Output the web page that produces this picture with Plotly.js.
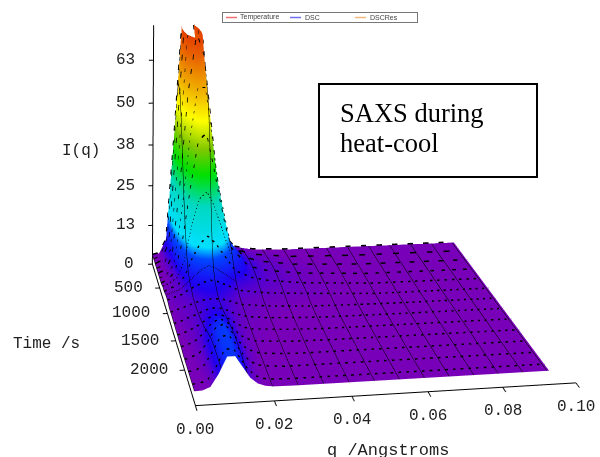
<!DOCTYPE html>
<html><head><meta charset="utf-8">
<script src="https://cdn.plot.ly/plotly-3.0.1.min.js"></script>
<style>html,body{margin:0;padding:0;background:#fff;overflow:hidden;width:600px;height:457px}#c{position:absolute;left:-71px;top:-285px;width:672px;height:1276px}</style></head>
<body><div id="c"></div>
<script>
const qValues=[0,0.002,0.004,0.006,0.008,0.010,0.012,0.014,0.016,0.018,0.020,0.025,0.030,0.040,0.060,0.093];
const timeValues=[0,100,200,300,400,500,600,700,800,900,1000,1100,1200,1300,1400,1500,1600,1700,1800,1900,2000,2100,2200,2300,2400,2500];
const intensity=[
[3,3.5,8,40,76,82,66,38,18,9,6,4.5,3.5,3,3,3],
[3,4,10,46,84,90,72,44,23,12,7.5,5.2,4.2,3.2,3,3],
[3,4,10,44,82,92,76,50,29,16,9,6,4.6,3.5,3,3],
[3,4,9,38,72,86,74,53,33,20,11,6.5,5,3.8,3,3],
[3,4,8,30,58,74,68,52,35,23,13,7,5.4,4,3.1,3],
[3,4,7,22,44,60,60,47,33,23,14,7.2,5.6,4.2,3.1,3],
[3,4,6.5,16,32,46,48,39,29,20,13,7.2,5.6,4.2,3.1,3],
[3.5,4.5,6,11,22,30,32,28,22,16,11,7,5.6,4.2,3.1,3],
[3.5,4.5,5.5,8.5,14,18,20,18,15,12,9,6.6,5.4,4.2,3.1,3],
[4,4.8,5.5,7.5,9.5,11.5,12.5,11.5,10,8.5,7,6,5,4.2,3,3],
[4,4.8,5.5,7,8,9,9.5,9,8,7,6,5.2,4.6,4,3,3],
[3.5,4.5,5.2,6,7,7.8,8,7.8,7,6,5.2,4.5,4,3.6,3,3],
[3.5,4.3,5,5.8,6.5,7,7,6.8,6.2,5.4,4.8,4.2,3.8,3.3,3,3],
[3.5,4.2,5,5.8,6.5,7.2,7.2,6.8,6,5.2,4.6,4,3.6,3.2,3,3],
[3.4,4.1,5,5.8,6.8,7.5,7.5,6.8,5.8,5,4.4,3.8,3.5,3.1,3,3],
[3.3,4,5,6,7,8,8,7,5.8,4.8,4.2,3.7,3.4,3,3,3],
[3.3,4,5,6.2,7.8,8.8,8.5,7.2,5.7,4.6,4,3.6,3.3,3,3,3],
[3.2,4,5,6.5,8.6,9.8,9.2,7.3,5.6,4.5,3.9,3.5,3.2,3,3,3],
[3.2,3.9,5,7,9.8,11,9.8,7.4,5.5,4.4,3.8,3.4,3.1,3,3,3],
[3,3.8,5,7.6,11,12.2,10.2,7.5,5.4,4.3,3.7,3.3,3,3,3,3],
[3,3.7,4.9,8,12,12.8,10.4,7.4,5.3,4.2,3.6,3.2,3,3,3,3],
[3,3.5,4.8,8.2,12.4,13,10.4,7.2,5.1,4,3.5,3.1,3,3,3,3],
[3,3.4,4.6,8.2,12.6,13,10.2,7,4.9,3.8,3.4,3,3,3,3,3],
[3,3.3,4.4,8,12.6,12.8,10,6.8,4.7,3.6,3.3,3,3,3,3,3],
[3,3.2,4.2,7.8,12.5,12.6,9.6,6.4,4.4,3.5,3.2,3,3,3,3,3],
[3,3.1,4,7.6,12.4,12.4,9.2,6,4.2,3.4,3.1,3,3,3,3,3]
];
const zTickVals=[0,12.6,25.2,37.8,50.4,63];
const zTickText=['0','13','25','38','50','63'];
const timeTicks=[0,500,1000,1500,2000];
const qTicks=[0,0.02,0.04,0.06,0.08,0.10];
const qTickText=['0.00','0.02','0.04','0.06','0.08','0.10'];
const tMax=2560,zMax=73,qMax=0.10;
const Wp=672,Hp=1276,L=-71,Tp=-285;
const px=x=>(x-L)/Wp, py=y=>1-(y-Tp)/Hp;
const mono='"Liberation Mono","DejaVu Sans Mono",monospace';
const axisBase={showgrid:false,zeroline:false,showbackground:false,showspikes:false,showline:true,linecolor:'#000',linewidth:2,ticks:'outside',ticklen:8,tickwidth:2,tickcolor:'#000',showticklabels:false,title:{text:''}};
const data=[{type:'surface',x:qValues,y:timeValues,z:intensity,cmin:0,cmax:78,showscale:false,
 colorscale:[[0,'#7800b8'],[0.045,'#7800b8'],[0.07,'#5a00cc'],[0.1,'#2000f0'],[0.18,'#0048ff'],[0.22,'#00e0ff'],[0.36,'#00d8c0'],[0.47,'#00e000'],[0.56,'#80c800'],[0.66,'#ffff00'],[0.76,'#f0b000'],[0.88,'#e86000'],[1,'#e02000']],
 lighting:{ambient:1,diffuse:0,specular:0,roughness:1,fresnel:0},
 contours:{x:{show:true,color:'#000',width:1,start:0,end:0.093,size:0.0066},y:{show:false},z:{show:false}},hoverinfo:'skip'}];
timeValues.forEach((t,i)=>{
 const even=i%2===0;
 if(even||i<11){
  const n=even?qValues.length:11;
  data.push({type:'scatter3d',mode:'lines',x:qValues.slice(0,n),y:qValues.slice(0,n).map(()=>t),z:intensity[i].slice(0,n).map(v=>v+0.2),line:{color:'#000',width:even?3:2,dash:'dash'},hoverinfo:'skip',showlegend:false});
 }
});
const lbl=(x,y,text,size,fam,anchor,color)=>({xref:'paper',yref:'paper',x:px(x),y:py(y),xanchor:anchor||'left',yanchor:'middle',showarrow:false,text,font:{family:fam,size,color:color||'#222'}});
const serif='"Liberation Serif",serif',sans='"Liberation Sans",sans-serif';
const seg=(x0,x1,y,c)=>({type:'line',xref:'paper',yref:'paper',x0:px(x0),x1:px(x1),y0:py(y),y1:py(y),line:{color:c,width:1.5}});
const tickFont={family:mono,size:16,color:'#222'};
const sceneNotes=[
 ...zTickVals.map((v,i)=>({x:0,y:0,z:v,text:zTickText[i],showarrow:false,xanchor:'right',yanchor:'middle',xshift:-16,font:tickFont})),
 ...timeTicks.filter(v=>v>0).map(v=>({x:0,y:v,z:0,text:String(v),showarrow:false,xanchor:'right',yanchor:'middle',xshift:-15,font:tickFont})),
 ...qTicks.map((v,i)=>({x:v,y:tMax,z:0,text:qTickText[i],showarrow:false,xanchor:'center',yanchor:'middle',yshift:-24,font:tickFont}))
];
const layout={width:Wp,height:Hp,margin:{l:0,r:0,t:0,b:0},paper_bgcolor:'#fff',showlegend:false,
 shapes:[seg(226,237,17.5,'#f07070'),seg(290,301,17.5,'#7070f0'),seg(355,366,17.5,'#f0b880')],
 scene:{domain:{x:[0,1],y:[0,1]},aspectmode:'manual',aspectratio:{x:1.390,y:1.197,z:1},
  camera:{eye:{x:-1.427,y:-5.178,z:2.113},center:{x:-0.350,y:-0.089,z:-0.579},up:{x:-0.128,y:-0.466,z:1},projection:{type:'perspective'}},
  annotations:sceneNotes,
  xaxis:Object.assign({},axisBase,{range:[0,qMax],tickvals:qTicks,ticklen:4}),
  yaxis:Object.assign({},axisBase,{range:[tMax,0],tickvals:timeTicks}),
  zaxis:Object.assign({},axisBase,{range:[0,zMax],tickvals:zTickVals})},
 annotations:[
  {xref:'paper',yref:'paper',x:px(318),y:py(83),xanchor:'left',yanchor:'top',width:216,height:91,borderwidth:2,bordercolor:'#000',bgcolor:'#fff',borderpad:0,showarrow:false,text:' ',font:{size:10}},
  lbl(338,113,'SAXS during',26.5,serif,'left','#000'),
  lbl(338,143,'heat-cool',26.5,serif,'left','#000'),
  lbl(81,151,'I(q)',16,mono,'center'),
  lbl(46,344,'Time /s',16,mono,'center'),
  lbl(388,450,'q /Angstroms',17,mono,'center'),
  {xref:'paper',yref:'paper',x:px(222),y:py(12),xanchor:'left',yanchor:'top',width:194,height:9,borderwidth:1,bordercolor:'#777',borderpad:0,showarrow:false,text:' ',font:{size:6}},
  lbl(238,17.5,'Temperature',7,sans,'left','#444'),
  lbl(303,17.5,'DSC',7,sans,'left','#444'),
  lbl(368,17.5,'DSCRes',7,sans,'left','#444')
 ]};
Plotly.newPlot('c',data,layout,{displayModeBar:false});
</script></body></html>
